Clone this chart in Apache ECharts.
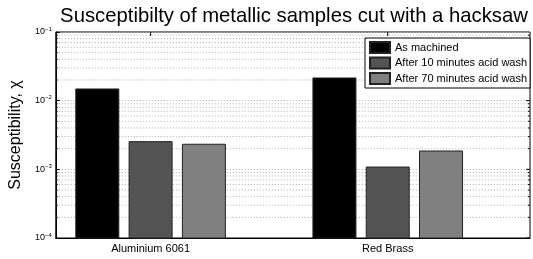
<!DOCTYPE html>
<html>
<head>
<meta charset="utf-8">
<script src="https://cdn.jsdelivr.net/npm/echarts@6/dist/echarts.min.js"></script>
<style>
  html, body { margin: 0; padding: 0; background: #fff; }
  #chart { width: 533px; height: 259px; }
</style>
</head>
<body>
<div id="chart"></div>
<script>
// samples on the x axis (positions 1 and 2)
const categories = ['Aluminium 6061', 'Red Brass']
const seriesNames = ['As machined', 'After 10 minutes acid wash', 'After 70 minutes acid wash']
const asMachined = [0.0148, 0.0214]
const after10 = [0.00253, 0.00108]
const after70 = [0.00232, 0.00185]
const colors = ['#000000', '#545454', '#808080']

const yMin = 1e-4
const yMax = 1e-1
const xMin = 0.6
const xMax = 2.6

// log grid lines 1..9 in each decade
const gridValues = []
for (let e = -4; e <= -2; e++) {
  for (let m = 1; m <= 9; m++) gridValues.push(m * Math.pow(10, e))
}

const font = 'Liberation Sans, Arial, sans-serif'
const barW = 43
const barStep = 53.3

// bars on a log axis have to start at the bottom, so draw them as custom rects
const makeSeries = (name, values, i) => ({
  name: name,
  type: 'custom',
  z: 3,
  itemStyle: { color: colors[i], borderColor: '#222', borderWidth: 1 },
  data: values.map((v, k) => [k + 1, v]),
  renderItem: (params, api) => {
    const top = api.coord([api.value(0), api.value(1)])
    const base = api.coord([api.value(0), yMin])
    const cx = top[0] + (i - 1) * barStep
    return {
      type: 'rect',
      shape: { x: cx - barW / 2, y: top[1], width: barW, height: base[1] - top[1] },
      style: { fill: colors[i], stroke: '#222', lineWidth: 1 }
    }
  }
})

const tick = (x1, y1, x2, y2) => ({
  type: 'line',
  shape: { x1: x1, y1: y1, x2: x2, y2: y2 },
  style: { stroke: '#000', lineWidth: 1 }
})

// minor dotted grid + matlab style ticks on right / top
const gridSeries = {
  type: 'custom',
  silent: true,
  z: 1,
  data: gridValues.map(v => [xMin, v]),
  renderItem: (params, api) => {
    const v = api.value(1)
    const l = api.coord([xMin, v])
    const r = api.coord([xMax, v])
    const major = Math.abs(Math.log10(v) - Math.round(Math.log10(v))) < 1e-9
    const children = [tick(r[0] - (major ? 4 : 2), r[1], r[0], r[1])]
    if (!major) {
      children.push({
        type: 'line',
        shape: { x1: l[0], y1: l[1], x2: r[0], y2: r[1] },
        style: { stroke: '#aaa', lineWidth: 1, lineDash: [1, 2] }
      })
      children.push(tick(l[0], l[1], l[0] + 2, l[1]))
    }
    if (params.dataIndex === 0) {
      categories.forEach((c, k) => {
        const t = api.coord([k + 1, yMax])
        children.push(tick(t[0], t[1], t[0], t[1] + 4))
      })
    }
    return { type: 'group', children: children }
  }
}

const option = {
  animation: false,
  backgroundColor: '#fff',
  title: {
    text: 'Susceptibilty of metallic samples cut with a hacksaw',
    left: 289, textAlign: 'center', top: 1,
    textStyle: { fontFamily: font, fontSize: 20.3, fontWeight: 'normal', color: '#000' }
  },
  legend: {
    orient: 'vertical',
    left: 365, top: 38,
    padding: [3, 3, 3, 4],
    itemGap: 2.5,
    itemWidth: 20, itemHeight: 11, itemTextGap: 2,
    backgroundColor: '#fff',
    borderColor: '#000', borderWidth: 1,
    icon: 'rect',
    textStyle: { fontFamily: font, fontSize: 11, lineHeight: 12, color: '#000' },
    data: seriesNames
  },
  grid: {
    left: 54, top: 32, right: 2, bottom: 21,
    show: true, borderColor: '#000', borderWidth: 1, backgroundColor: '#fff'
  },
  xAxis: {
    type: 'value', min: xMin, max: xMax, interval: 0.2,
    splitLine: { show: false },
    axisLine: { lineStyle: { color: '#000' } },
    axisTick: { show: false },
    axisLabel: {
      fontFamily: font, fontSize: 11, color: '#000', margin: 5,
      formatter: v => {
        const k = Math.round(v)
        return Math.abs(v - k) < 1e-6 && categories[k - 1] ? categories[k - 1] : ''
      }
    }
  },
  yAxis: {
    type: 'log', logBase: 10, min: yMin, max: yMax,
    name: 'Susceptibility, χ',
    nameLocation: 'middle', nameGap: 26,
    nameTextStyle: { fontFamily: font, fontSize: 16, color: '#000' },
    axisLine: { lineStyle: { color: '#000' } },
    axisTick: { inside: true, length: 4, lineStyle: { color: '#000' } },
    splitLine: { lineStyle: { type: [1, 2], color: '#aaa' } },
    axisLabel: {
      margin: 4,
      formatter: v => '{b|10}{s|' + Math.round(Math.log10(v)).toString().replace('-', '−') + '}',
      rich: {
        b: { fontFamily: font, fontSize: 9, color: '#000' },
        s: { fontFamily: font, fontSize: 6, color: '#000', verticalAlign: 'top', padding: [0, 0, 6, 0] }
      }
    }
  },
  series: [
    gridSeries,
    makeSeries(seriesNames[0], asMachined, 0),
    makeSeries(seriesNames[1], after10, 1),
    makeSeries(seriesNames[2], after70, 2)
  ]
}

const chart = echarts.init(document.getElementById('chart'))
chart.setOption(option)
</script>
</body>
</html>
